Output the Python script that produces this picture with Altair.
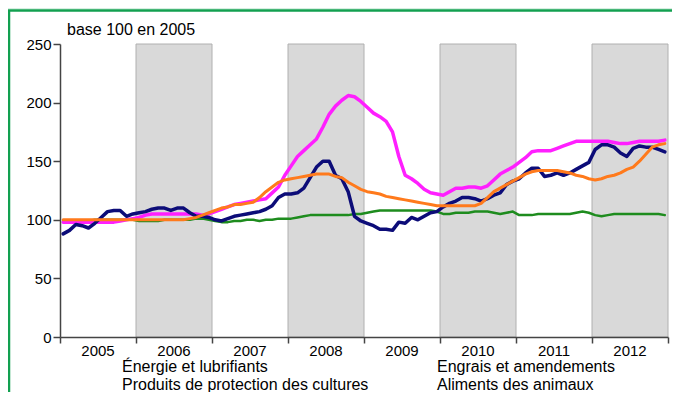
import altair as alt
import pandas as pd

# ---------------- data (monthly, Jan 2005 .. Dec 2012, base 100 en 2005) ----------------
years = [2005, 2006, 2007, 2008, 2009, 2010, 2011, 2012]
year_labels = ["2005", "2006", "2007", "2008", "2009", "2010", "2011", "2012"]
band_years = [2006, 2008, 2010, 2012]

energie = [88, 91, 96, 95, 93, 97, 102, 107, 108, 108, 103, 105,
           106, 107, 109, 110, 110, 108, 110, 110, 106, 103, 103, 102,
           100, 99, 101, 103, 104, 105, 106, 107, 109, 112, 119, 122,
           122, 123, 127, 136, 145, 150, 150, 138, 135, 124, 103, 99,
           97, 95, 92, 92, 91, 98, 97, 102, 100, 103, 106, 107,
           111, 114, 116, 119, 119, 118, 116, 118, 121, 123, 130, 133,
           135, 140, 144, 144, 137, 138, 140, 138, 140, 143, 146, 149,
           160, 164, 164, 162, 157, 154, 161, 163, 162, 162, 160, 158]

protection = [99, 99, 99, 99, 99, 100, 100, 100, 100, 100, 100, 100,
              99, 99, 99, 99, 100, 100, 100, 100, 100, 101, 101, 100,
              99, 98, 98, 99, 99, 100, 100, 99, 100, 100, 101, 101,
              101, 102, 103, 104, 104, 104, 104, 104, 104, 104, 105, 105,
              106, 107, 108, 108, 108, 108, 108, 108, 108, 108, 108, 107,
              105, 105, 106, 106, 106, 107, 107, 107, 106, 105, 106, 107,
              104, 104, 104, 105, 105, 105, 105, 105, 105, 106, 107, 106,
              104, 103, 104, 105, 105, 105, 105, 105, 105, 105, 105, 104]

engrais = [98, 98, 98, 98, 98, 98, 98, 98, 98, 99, 100, 101,
           102, 104, 105, 105, 105, 105, 105, 105, 105, 105, 104, 105,
           107, 109, 111, 113, 114, 115, 116, 117, 118, 123, 128, 138,
           146, 154, 159, 164, 169, 179, 190, 197, 202, 206, 205, 201,
           196, 191, 188, 184, 175, 154, 138, 135, 131, 126, 123, 122,
           121, 124, 127, 127, 128, 128, 127, 129, 134, 139, 142, 145,
           149, 153, 158, 159, 159, 159, 161, 163, 165, 167, 167, 167,
           167, 167, 167, 166, 165, 165, 166, 167, 167, 167, 167, 168]

aliments = [100, 100, 100, 100, 100, 100, 100, 100, 100, 100, 100, 100,
            100, 100, 100, 100, 100, 100, 100, 100, 101, 102, 104, 106,
            108, 110, 111, 113, 113, 114, 115, 119, 124, 128, 132, 134,
            135, 136, 137, 138, 139, 139, 139, 137, 136, 132, 129, 126,
            124, 123, 122, 120, 119, 118, 117, 116, 115, 114, 113, 112,
            112, 112, 112, 112, 112, 112, 114, 119, 124, 127, 130, 133,
            136, 139, 141, 142, 142, 142, 142, 141, 140, 138, 137, 135,
            134, 135, 137, 138, 140, 143, 145, 150, 156, 162, 164, 165]

series_names = ["Énergie et lubrifiants", "Produits de protection des cultures",
                "Engrais et amendements", "Aliments des animaux"]
series_values = [energie, protection, engrais, aliments]
series_colors = ["#0c0c78", "#1e8c1e", "#ff1fff", "#ff7a1c"]
series_widths = [3.5, 2.5, 3.5, 3.0]

title_text = "Flambée des coûts de l'alimentation animale"
subtitle_text = "base 100 en 2005"

# ---------------- tables ----------------
t = [y + (m + 0.5) / 12 for y in years for m in range(12)]
lines_df = pd.DataFrame({
    "t": t * 4,
    "value": sum(series_values, []),
    "series": sum([[n] * len(t) for n in series_names], []),
})
bands_df = pd.DataFrame({"start": band_years, "end": [b + 1 for b in band_years]})
ylab_df = pd.DataFrame({"mid": [y + 0.5 for y in years], "label": year_labels})

W, H = 608, 293
FONT = "Liberation Sans"

xs = alt.Scale(domain=[2005, 2013], nice=False, zero=False)
ys = alt.Scale(domain=[0, 250], nice=False, zero=True)
x_axis = alt.Axis(values=list(range(2005, 2014)), labels=False, title=None, grid=False,
                  tickSize=6, tickColor="#444444", tickWidth=1.5,
                  domainColor="#444444", domainWidth=1.5, zindex=1)
y_axis = alt.Axis(values=[0, 50, 100, 150, 200, 250], title=None, grid=False,
                  tickSize=7, tickColor="#444444", tickWidth=1.5,
                  domainColor="#444444", domainWidth=1.5, labelPadding=2,
                  labelFont=FONT, labelFontSize=15, labelColor="#000000", zindex=1)

bands = alt.Chart(bands_df).mark_rect(color="#d9d9d9", stroke="#b0b0b0", strokeWidth=1).encode(
    x=alt.X("start:Q", scale=xs, axis=x_axis),
    x2="end:Q",
    y=alt.value(0),
    y2=alt.value(H),
)

layers = [bands]
order = [1, 2, 0, 3]  # drawing order: green, magenta, navy, orange
for k in order:
    name = series_names[k]
    layers.append(
        alt.Chart(lines_df).transform_filter(alt.datum.series == name)
        .mark_line(color=series_colors[k], strokeWidth=series_widths[k],
                   strokeJoin="round", strokeCap="round")
        .encode(
            x=alt.X("t:Q", scale=xs, axis=x_axis),
            y=alt.Y("value:Q", scale=ys, axis=y_axis),
        )
    )

year_text = alt.Chart(ylab_df).mark_text(font=FONT, fontSize=15, baseline="alphabetic",
                                          color="#000000").encode(
    x=alt.X("mid:Q", scale=xs, axis=x_axis),
    y=alt.value(312),
    text="label:N",
)
layers.append(year_text)

one = pd.DataFrame({"a": [0]})


def label(txt, x, y, size=16, weight="normal", align="left"):
    return alt.Chart(one).mark_text(text=txt, font=FONT, fontSize=size, fontWeight=weight,
                                    align=align, baseline="alphabetic", color="#000000").encode(
        x=alt.value(x), y=alt.value(y))


layers.append(label(subtitle_text, 7, -9))
layers.append(label(series_names[0], 62, 328))
layers.append(label(series_names[1], 62, 346))
layers.append(label(series_names[2], 377, 328))
layers.append(label(series_names[3], 377, 346))
layers.append(label(title_text, 288, -37, size=24, weight="bold", align="center"))

# green frame (top line and left line)
layers.append(alt.Chart(one).mark_rect(color="#d6efe1").encode(
    x=alt.value(-52), x2=alt.value(620), y=alt.value(-46), y2=alt.value(-34.5)))
layers.append(alt.Chart(one).mark_rule(color="#12a050", strokeWidth=2.5).encode(
    x=alt.value(-52), x2=alt.value(620), y=alt.value(-33.5)))
layers.append(alt.Chart(one).mark_rule(color="#12a050", strokeWidth=2.5).encode(
    x=alt.value(-51), y=alt.value(-34), y2=alt.value(400)))

chart = alt.layer(*layers).properties(
    width=W, height=H,
    autosize=alt.AutoSizeParams(type="none"),
    padding={"left": 52, "top": 36, "right": 4, "bottom": 55},
    background="#ffffff",
).configure_view(stroke=None)

chart.save("out.html", embed_options={"renderer": "svg", "actions": False})
